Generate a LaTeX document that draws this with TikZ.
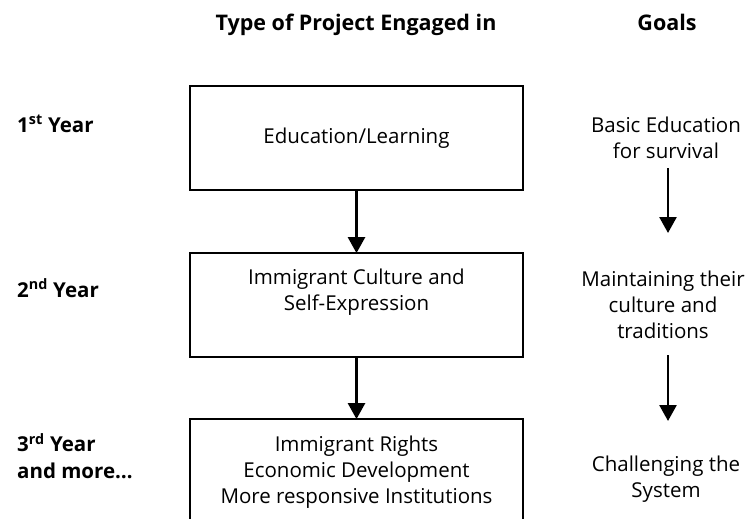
\documentclass[tikz,border=0pt]{standalone}
\usepackage{fontspec}
\setmainfont{Open Sans}
\usetikzlibrary{arrows.meta}
\tikzset{
  box/.style={draw, line width=1.8pt, minimum width=333pt, inner sep=0pt},
  txt/.style={align=center, inner sep=0pt, font=\fontsize{20.5}{26}\selectfont},
  lbl/.style={anchor=base west, inner sep=0pt, font=\fontsize{20.5}{27}\selectfont\bfseries},
  head/.style={anchor=base, inner sep=0pt, font=\fontsize{21.5}{26}\selectfont\bfseries},
  arr/.style={line width=2.6pt, -{Triangle[width=17pt,length=16pt]}, shorten >=-1pt}
}
\begin{document}
\begin{tikzpicture}[x=1pt,y=-1pt]
\useasboundingbox (0,0) rectangle (755,519);
\clip (0,0) rectangle (755,519);
% headings
\node[head] (h1) at (356,31) {Type of Project Engaged in};
\node[head] (h2) at (667,31) {Goals};
% year labels
\node[lbl] (y1) at (17,132) {1\textsuperscript{st} Year};
\node[lbl] (y2) at (17,297) {2\textsuperscript{nd} Year};
\node[lbl, align=left, anchor=north west] (y3) at (17,433) {3\textsuperscript{rd} Year\\and more\ldots};
% boxes
\node[box, minimum height=104pt] (b1) at (356.5,138) {};
\node[box, minimum height=104pt] (b2) at (356.5,305) {};
\node[box, minimum height=110pt] (b3) at (356.5,474) {};
% box texts
\node[txt] (t1) at (356.5,138) {Education/Learning};
\node[txt] (t2) at (356.5,292) {Immigrant Culture and\\Self-Expression};
\node[txt] (t3) at (356.5,472) {Immigrant Rights\\Economic Development\\More responsive Institutions};
% goals
\node[txt] (g1) at (666,138) {Basic Education\\for survival};
\node[txt] (g2) at (663,305) {Maintaining their\\culture and\\traditions};
\node[txt] (g3) at (666,479) {Challenging the\\System};
% arrows
\draw[arr] (b1.south) -- (b2.north);
\draw[arr] (b2.south) -- (b3.north);
\coordinate (a1s) at (668,168);
\coordinate (a1e) at (668,232);
\coordinate (a2s) at (668,355);
\coordinate (a2e) at (668,420);
\draw[arr] (a1s) -- (a1e);
\draw[arr] (a2s) -- (a2e);
\end{tikzpicture}
\end{document}
